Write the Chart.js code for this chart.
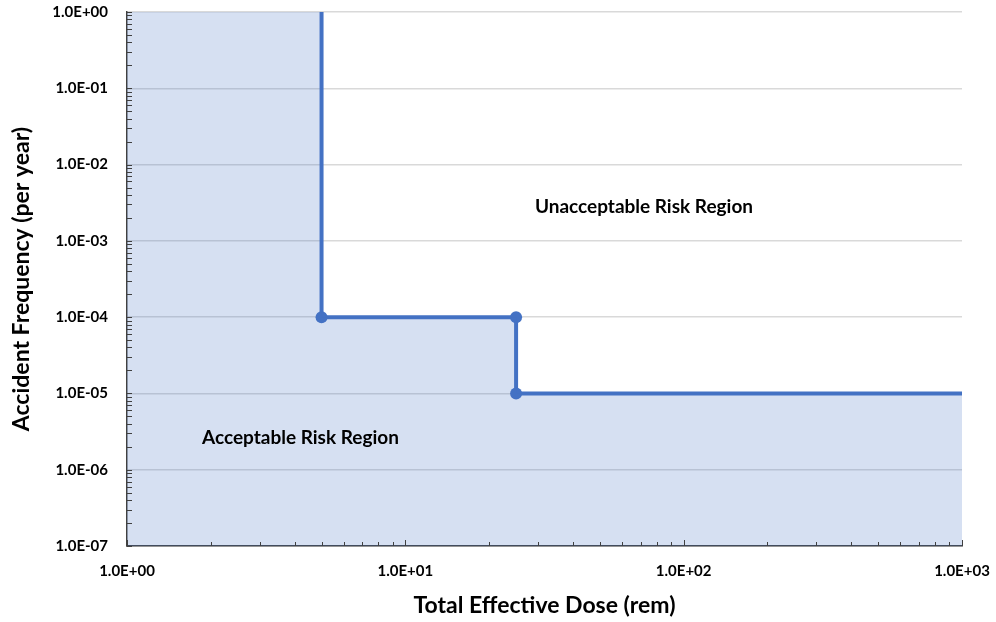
<!DOCTYPE html>
<html>
<head>
<meta charset="utf-8">
<script src="https://cdn.jsdelivr.net/npm/chart.js@4"></script>
<style>
  html, body { margin: 0; padding: 0; background: #fff; }
  #wrap { width: 996px; height: 622px; }
</style>
</head>
<body>
<div id="wrap"><canvas id="riskchart"></canvas></div>
<script>
// limit line: total effective dose (rem) vs accident frequency (per year)
const doseValues = [1, 5, 5, 25, 25, 1000];
const freqValues = [1, 1, 1e-4, 1e-4, 1e-5, 1e-5];
const markerAt = [false, false, true, true, true, false];
const xTickValues = [1, 10, 100, 1000];
const yTickValues = [1e0, 1e-1, 1e-2, 1e-3, 1e-4, 1e-5, 1e-6, 1e-7];
const regionNames = ['Unacceptable Risk Region', 'Acceptable Risk Region'];
const regionDose = [72, 4.2];
const regionFreq = [2.8e-3, 2.6e-6];

const blue = '#4472C4';
const fontFam = 'Lato, "Open Sans", sans-serif';

function sci(v) {
    const e = Math.round(Math.log10(v));
    return '1.0E' + (e < 0 ? '-' : '+') + String(Math.abs(e)).padStart(2, '0');
}

const allPoints = doseValues.map((x, i) => ({x: x, y: freqValues[i]}));

// Excel style inward minor ticks + region captions
const extras = {
    id: 'extras',
    afterDatasetsDraw(chart) {
        const ctx = chart.ctx;
        const xs = chart.scales.x, ys = chart.scales.y;
        const area = chart.chartArea;
        ctx.save();
        ctx.strokeStyle = '#404040';
        ctx.lineWidth = 1;
        for (let d = 1; d < 1000; d *= 10) {
            for (let m = 1; m <= 10; m++) {
                const px = Math.round(xs.getPixelForValue(d * m)) + 0.5;
                const len = (m === 1 || m === 10) ? 6 : 4;
                ctx.beginPath();
                ctx.moveTo(px, area.bottom);
                ctx.lineTo(px, area.bottom - len);
                ctx.stroke();
            }
        }
        for (let d = 1e-7; d < 1; d *= 10) {
            for (let m = 1; m <= 10; m++) {
                const py = Math.round(ys.getPixelForValue(d * m)) + 0.5;
                ctx.beginPath();
                ctx.moveTo(area.left, py);
                ctx.lineTo(area.left + 5, py);
                ctx.stroke();
            }
        }
        ctx.fillStyle = '#000';
        ctx.font = 'bold 19px ' + fontFam;
        ctx.textAlign = 'center';
        ctx.textBaseline = 'middle';
        regionNames.forEach((name, i) => {
            ctx.fillText(name, xs.getPixelForValue(regionDose[i]), ys.getPixelForValue(regionFreq[i]));
        });
        ctx.restore();
    }
};

new Chart(document.getElementById('riskchart'), {
    type: 'line',
    data: {
        datasets: [{
            // shaded acceptable area
            data: allPoints,
            borderWidth: 0,
            borderColor: 'rgba(0,0,0,0)',
            backgroundColor: 'rgba(68,114,196,0.22)',
            fill: 'start',
            tension: 0,
            pointRadius: 0,
            pointHoverRadius: 0
        }, {
            // limit line
            data: allPoints.slice(1),
            borderColor: blue,
            borderWidth: 4,
            fill: false,
            tension: 0,
            pointRadius: markerAt.slice(1).map(m => m ? 6 : 0),
            pointHoverRadius: markerAt.slice(1).map(m => m ? 6 : 0),
            pointBackgroundColor: blue,
            pointBorderColor: blue,
            pointBorderWidth: 0
        }]
    },
    options: {
        responsive: true,
        maintainAspectRatio: false,
        animation: false,
        layout: { padding: { top: 12, right: 34, left: 0, bottom: 0 } },
        plugins: {
            legend: { display: false },
            tooltip: { enabled: false }
        },
        scales: {
            x: {
                type: 'logarithmic',
                min: 1,
                max: 1000,
                afterBuildTicks: s => { s.ticks = xTickValues.map(v => ({value: v})); },
                afterFit: s => { s.height = 76; s.paddingLeft = 0; s.paddingRight = 0; },
                grid: { color: 'rgba(0,0,0,0)', drawTicks: false },
                border: { display: true, color: '#404040', width: 1.5 },
                ticks: {
                    padding: 16,
                    maxRotation: 0,
                    autoSkip: false,
                    color: '#000',
                    font: { family: fontFam, size: 15, weight: 'bold' },
                    callback: v => sci(v)
                },
                title: {
                    display: true,
                    text: 'Total Effective Dose (rem)',
                    color: '#000',
                    font: { family: fontFam, size: 23, weight: 'bold' },
                    padding: { top: 0, bottom: 3 }
                }
            },
            y: {
                type: 'logarithmic',
                min: 1e-7,
                max: 1,
                afterBuildTicks: s => { s.ticks = yTickValues.map(v => ({value: v})); },
                afterFit: s => { s.width = 127; s.paddingTop = 0; s.paddingBottom = 0; },
                grid: { color: '#D9D9D9', lineWidth: 1.5, drawTicks: false },
                border: { display: true, color: '#404040', width: 1.5 },
                ticks: {
                    padding: 19,
                    autoSkip: false,
                    color: '#000',
                    font: { family: fontFam, size: 15, weight: 'bold' },
                    callback: v => sci(v)
                },
                title: {
                    display: true,
                    text: 'Accident Frequency (per year)',
                    color: '#000',
                    font: { family: fontFam, size: 23, weight: 'bold' },
                    padding: { top: 8, bottom: 0 }
                }
            }
        }
    },
    plugins: [extras]
});
</script>
</body>
</html>
